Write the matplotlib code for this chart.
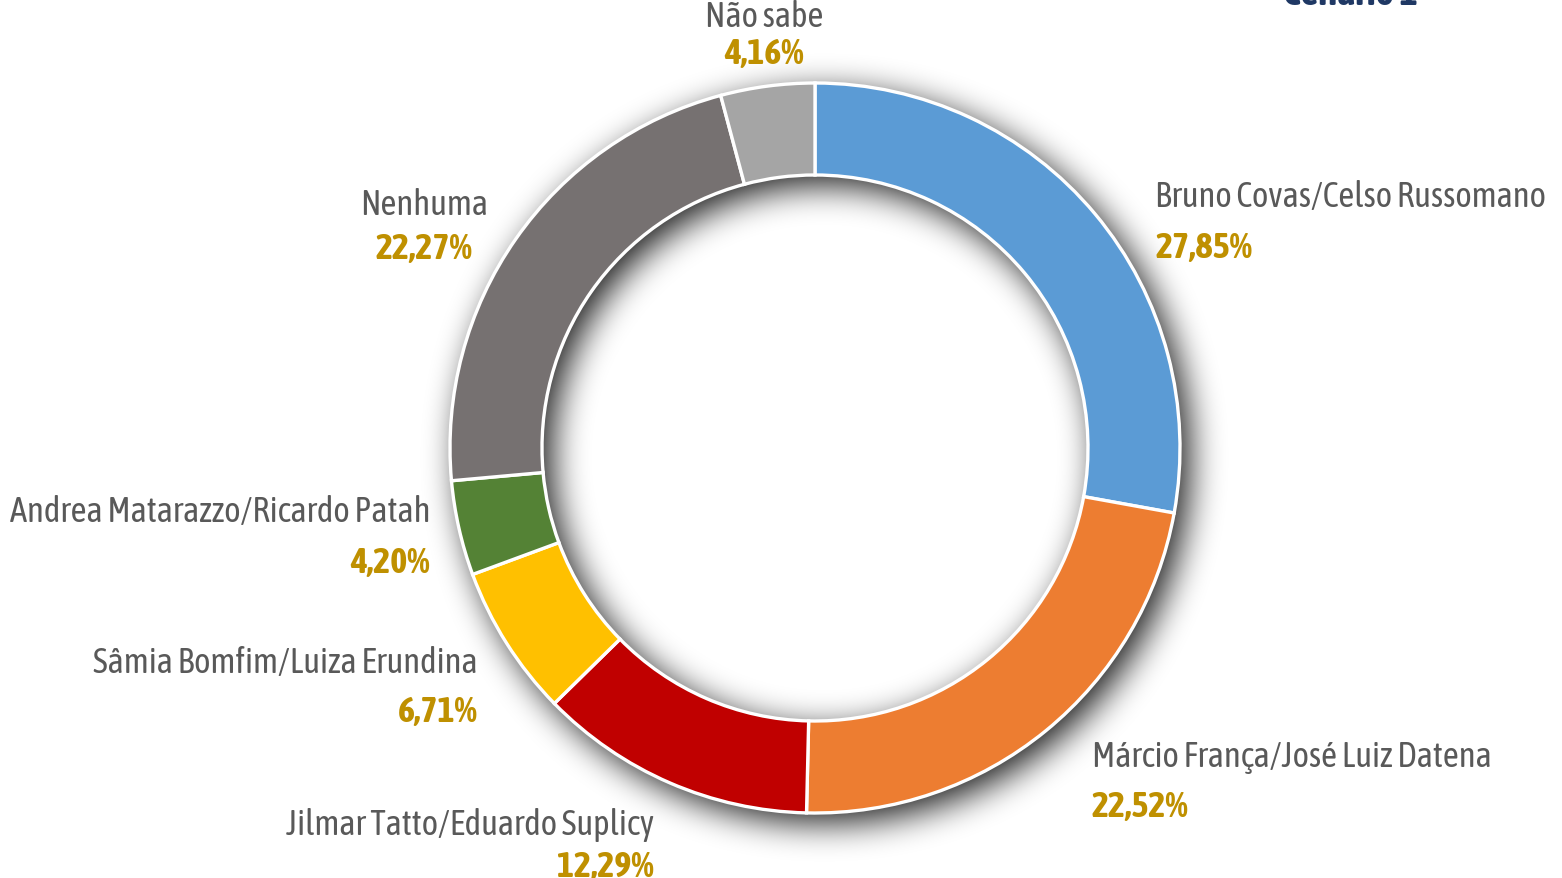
import numpy as np
import matplotlib
matplotlib.use("Agg")
import matplotlib.pyplot as plt
from matplotlib import font_manager

# data
labels = ["Bruno Covas/Celso Russomano", "Márcio França/José Luiz Datena",
          "Jilmar Tatto/Eduardo Suplicy", "Sâmia Bomfim/Luiza Erundina",
          "Andrea Matarazzo/Ricardo Patah", "Nenhuma", "Não sabe"]
values = [27.85, 22.52, 12.29, 6.71, 4.20, 22.27, 4.16]
colors = ["#5B9BD5", "#ED7D31", "#C00000", "#FFC000", "#548235", "#767171", "#A5A5A5"]
title = "Cenário 1"

# label placement in pixels (x, name baseline, value baseline, align)
label_pos = [
    (1155, 207, 258, "left"),
    (1092, 767, 817, "left"),
    (654, 835, 877, "right"),
    (478, 673, 722, "right"),
    (430, 522, 573, "right"),
    (424, 215, 259, "center"),
    (764, 27, 64, "center"),
]

W, H = 1562, 879
cx, cy = 815, 449
R_out, ring_w = 365, 92


def weight_num(w):
    if isinstance(w, str):
        return {"bold": 700, "normal": 400, "regular": 400, "medium": 500,
                "semibold": 600, "demibold": 600, "light": 300}.get(w, 400)
    return w


# pick the narrowest family we can find, preferring one that has a bold face
fonts = font_manager.fontManager.ttflist
names = sorted({f.name for f in fonts})
narrow = [n for n in names if "Narrow" in n or "Condensed" in n]
narrow_bold = [n for n in narrow
               if any(f.name == n and weight_num(f.weight) >= 600 for f in fonts)]
stretch = "normal"
if narrow_bold:
    fam = narrow_bold[0]
elif narrow:
    fam = narrow[0]
elif "Roboto" in names:
    fam = "Roboto"
else:
    fam = "Liberation Sans"
plt.rcParams["font.family"] = [fam, "DejaVu Sans"]

fig = plt.figure(figsize=(W / 100, H / 100), dpi=100)
ax = fig.add_axes([0, 0, 1, 1])
ax.set_xlim(0, W)
ax.set_ylim(0, H)
renderer = fig.canvas.get_renderer()


def fit_size(s, width, **kw):
    t = ax.text(0, 0, s, fontsize=20, **kw)
    w = t.get_window_extent(renderer).width
    t.remove()
    return 20 * width / w


fs_name = min(fit_size(labels[0], 398), 25)
fs_val = min(fit_size("27,85%", 103, fontweight="bold"), 26)
fs_title = min(fit_size(title, 157, fontweight="bold"), 28)

# soft drop shadow of the ring (blurred mask)
yy, xx = np.mgrid[0:H, 0:W]
d = np.hypot(xx - (cx + 9), yy - (cy + 9))
mask = ((d <= R_out) & (d >= R_out - ring_w)).astype(float)


def box_blur(a, r, axis):
    pad = [(0, 0), (0, 0)]
    pad[axis] = (r + 1, r)
    c = np.cumsum(np.pad(a, pad, mode="edge"), axis=axis)
    n = a.shape[axis]
    hi = np.take(c, np.arange(2 * r + 1, 2 * r + 1 + n), axis=axis)
    lo = np.take(c, np.arange(0, n), axis=axis)
    return (hi - lo) / (2 * r + 1)


sh = mask
for _ in range(3):
    sh = box_blur(sh, 16, 0)
    sh = box_blur(sh, 16, 1)
rgba = np.zeros((H, W, 4))
rgba[..., 3] = np.clip(sh * 0.9, 0, 1)
ax.imshow(rgba, extent=[0, W, 0, H], origin="upper", zorder=0, interpolation="bilinear")

ax.pie(values, colors=colors, startangle=90, counterclock=False,
       center=(cx, H - cy), radius=R_out,
       wedgeprops=dict(width=ring_w, edgecolor="white", linewidth=2.4))

for lab, val, (x, yn, yv, ha) in zip(labels, values, label_pos):
    ax.text(x, H - yn, lab, ha=ha, va="baseline", fontsize=fs_name,
            color="#595959", zorder=5)
    ax.text(x, H - yv, f"{val:.2f}%".replace(".", ","), ha=ha, va="baseline",
            fontsize=fs_val, fontweight="bold", color="#BF9000", zorder=5)

ax.text(1283, H - 5, title, ha="left", va="baseline", fontsize=fs_title,
        fontweight="bold", color="#1F3864")

ax.set_xlim(0, W)
ax.set_ylim(0, H)
ax.set_aspect("equal")
ax.axis("off")

fig.savefig("out.png", dpi=100)
